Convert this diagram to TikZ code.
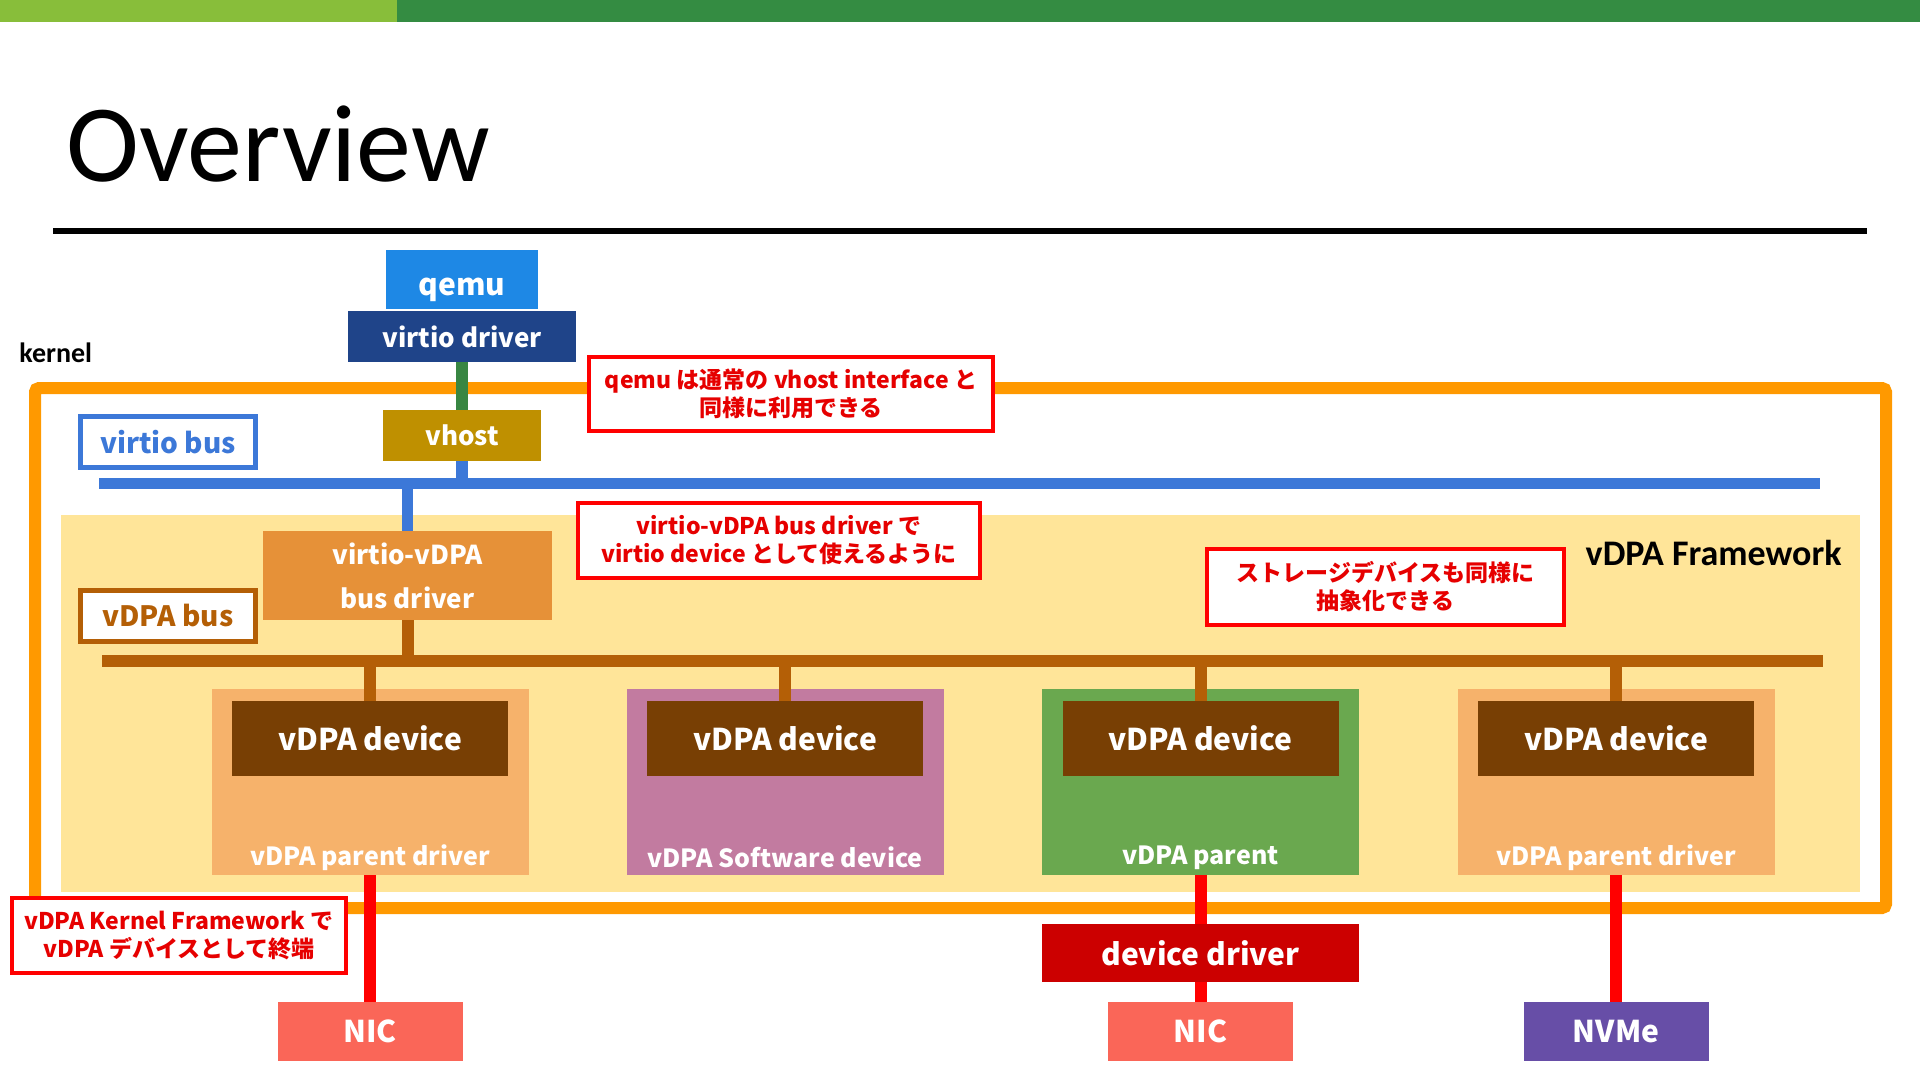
\documentclass[tikz,border=0pt]{standalone}
\usepackage{fontspec}
\setmainfont{Carlito}
\newfontfamily\cjk{Noto Sans CJK JP}
\usepackage{tikz}
\usetikzlibrary{positioning, calc}
\definecolor{barlight}{RGB}{136, 190, 58}
\definecolor{bardark}{RGB}{52, 140, 66}
\definecolor{qemublue}{RGB}{30, 136, 229}
\definecolor{driverblue}{RGB}{31, 68, 137}
\definecolor{linkgreen}{RGB}{56, 134, 66}
\definecolor{vhostgold}{RGB}{191, 144, 0}
\definecolor{busblue}{RGB}{60, 120, 216}
\definecolor{kernelorange}{RGB}{255, 153, 0}
\definecolor{frameyellow}{RGB}{255, 229, 153}
\definecolor{drvorange}{RGB}{230, 145, 56}
\definecolor{busbrown}{RGB}{180, 95, 6}
\definecolor{parentorange}{RGB}{246, 178, 107}
\definecolor{devbrown}{RGB}{120, 63, 4}
\definecolor{softpink}{RGB}{194, 123, 160}
\definecolor{parentgreen}{RGB}{106, 168, 79}
\definecolor{ddred}{RGB}{204, 0, 0}
\definecolor{nicsalmon}{RGB}{250, 102, 88}
\definecolor{nvmepurple}{RGB}{103, 78, 167}
\definecolor{notered}{RGB}{230, 0, 0}
\definecolor{linkred}{RGB}{255, 0, 0}
\newcommand{\fsz}[2]{\fontsize{#1}{#2}\selectfont}
\tikzset{
  block/.style={rectangle, inner sep=0pt, outer sep=0pt, text=white, font=\cjk\bfseries\fsz{13}{16}},
  wh/.style 2 args={minimum width=#1pt, minimum height=#2pt},
  buslabel/.style={rectangle, fill=white, line width=2.5pt, inner sep=0pt, font=\cjk\bfseries\fsz{14}{16}},
  note/.style={rectangle, draw=linkred, fill=white, line width=2pt, inner sep=0pt, align=center, text=notered, font=\cjk\bfseries\fsz{11.5}{14}},
  link/.style={line width=6pt},
}

\begin{document}
\begin{tikzpicture}[x=1pt, y=-1pt]
    \useasboundingbox (0,0) rectangle (960,540.5);
    % Top bar and title
    \fill[barlight] (0,0) rectangle (198.5,11);
    \fill[bardark] (198.5,0) rectangle (960,11);
    \node[anchor=base west, inner sep=0pt, font=\fsz{55}{60}] (title) at (33,90.5) {Overview};
    \draw[line width=3pt] (26.5,115.5) -- (933.5,115.5);
    % Kernel frame
    \node[anchor=base west, inner sep=0pt, font=\bfseries\fsz{14}{16}] (kernel) at (9.5,181) {kernel};
    \draw[kernelorange, line width=6pt, rounded corners=2pt] (17.5,194) rectangle (943,454);
    % vDPA Framework area
    \fill[frameyellow] (30.5,257.5) rectangle (930,446);
    \node[anchor=base east, inner sep=0pt, font=\bfseries\fsz{18}{20}] (fwork) at (921,282.5) {vDPA Framework};
    % Buses
    \coordinate (vbusL) at (49.5,241.5);
    \coordinate (vbusR) at (910,241.5);
    \coordinate (dbusL) at (51,330.5);
    \coordinate (dbusR) at (911.5,330.5);
    \draw[busblue, line width=5.5pt] (vbusL) -- (vbusR);
    \draw[busbrown, link] (dbusL) -- (dbusR);
    \node[buslabel, draw=busblue, text=busblue, wh={87.5}{25.5}] (vbuslbl) at (84,221) {virtio bus};
    \node[buslabel, draw=busbrown, text=busbrown, wh={87.5}{25.5}] (dbuslbl) at (84,308) {vDPA bus};
    % qemu stack
    \node[block, wh={76}{29.5}, fill=qemublue, font=\cjk\bfseries\fsz{15}{16}, text height=18pt, text depth=2.5pt] (qemu) at (231,139.75) {qemu};
    \node[block, wh={114}{25.5}, fill=driverblue] (vdrv) at (231,168.25) {virtio driver};
    \node[block, wh={79}{25.5}, fill=vhostgold] (vhost) at (231,217.75) {vhost};
    \node[block, wh={144.5}{44.5}, fill=drvorange, align=center, font=\cjk\bfseries\fsz{13}{22}] (vvdrv) at (203.75,287.75) {virtio-vDPA\\bus driver};
    \draw[linkgreen, link] (vdrv.south) -- (vhost.north);
    \draw[busblue, link] (vhost.south) -- (vhost.south |- vbusL);
    \draw[busblue, line width=5.5pt] (vvdrv.north |- vbusL) -- (vvdrv.north);
    \draw[busbrown, link] (vvdrv.south) -- (vvdrv.south |- dbusL);
    % vDPA devices
    \foreach \n/\x/\c/\t in {d1/185/parentorange/vDPA parent driver, d2/392.5/softpink/vDPA Software device, d3/600.25/parentgreen/vDPA parent, d4/808/parentorange/vDPA parent driver} {
      \node[fill=\c, wh={158.5}{93}, inner sep=0pt] (\n) at (\x,391) {};
      \node[block, fill=devbrown, wh={138}{37.5}, anchor=north, font=\cjk\bfseries\fsz{15}{16}] (\n-dev) at ([yshift=-6pt]\n.north) {vDPA device};
      \node[block, font=\cjk\bfseries\fsz{12.5}{14}] (\n-lbl) at ([yshift=9pt]\n.south) {\t};
      \draw[busbrown, link] (\n-dev.north |- dbusL) -- (\n-dev.north);
    }
    % Hardware below the kernel
    \node[block, wh={158.5}{29}, fill=ddred, font=\cjk\bfseries\fsz{15}{16}] (ddrv) at (600.25,476.5) {device driver};
    \node[block, wh={92.5}{29.5}, fill=nicsalmon, font=\cjk\bfseries\fsz{15}{16}] (nic1) at (185,515.75) {NIC};
    \node[block, wh={92.5}{29.5}, fill=nicsalmon, font=\cjk\bfseries\fsz{15}{16}] (nic2) at (600.25,515.75) {NIC};
    \node[block, wh={92.5}{29.5}, fill=nvmepurple, font=\cjk\bfseries\fsz{15}{16}] (nvme) at (808,515.75) {NVMe};
    \draw[linkred, link] (d1.south) -- (nic1.north);
    \draw[linkred, link] (d3.south) -- (ddrv.north);
    \draw[linkred, link] (ddrv.south) -- (nic2.north);
    \draw[linkred, link] (d4.south) -- (nvme.north);
    % Notes
    \node[note, wh={202}{37}] (note1) at (395.5,197) {qemu は通常の vhost interface と\\同様に利用できる};
    \node[note, wh={201}{37.5}] (note2) at (389.5,270.25) {virtio-vDPA bus driver で\\virtio device として使えるように};
    \node[note, wh={178.5}{38}] (note3) at (692.75,293.5) {ストレージデバイスも同様に\\抽象化できる};
    \node[note, wh={167}{37.5}] (note4) at (89.5,467.75) {vDPA Kernel Framework で\\vDPA デバイスとして終端};
  \end{tikzpicture}
\end{document}
